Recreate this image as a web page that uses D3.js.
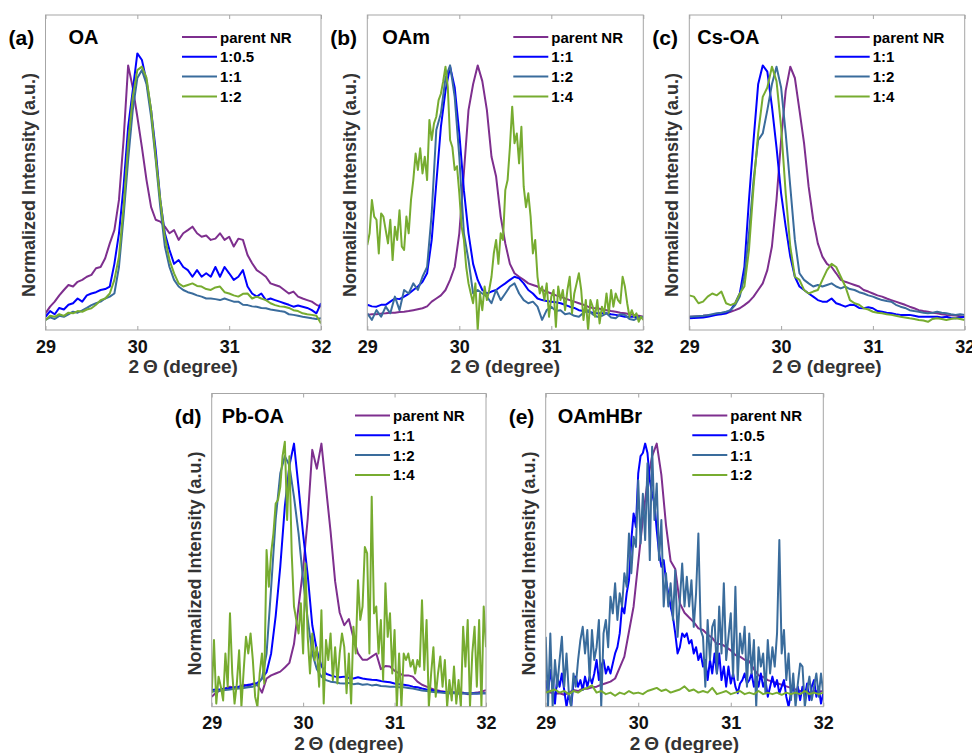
<!DOCTYPE html>
<html>
<head>
<meta charset="utf-8">
<script src="https://cdn.jsdelivr.net/npm/d3@7"></script>
<style>
  body { margin: 0; background: #fff; }
  svg { display: block; font-family: "Liberation Sans", Arial, sans-serif; }
</style>
</head>
<body>
<div id="chart"></div>
<script>
const width = 972;
const height = 753;

// 2-theta range and ticks shared by every panel
const xMin = 29;
const xMax = 32;
const xTicks = [29, 30, 31, 32];

const seriesColors = ["#7e2f8e", "#0000ff", "#3a6c9c", "#77ac30"];

// (a) OA  -- 0.05 deg grid
const oaLabels = ["parent NR", "1:0.5", "1:1", "1:2"];
const oaParent = [0.053,0.074,0.09,0.11,0.127,0.143,0.138,0.153,0.159,0.169,0.175,0.196,0.2,0.228,0.275,0.317,0.413,0.603,0.84,0.77,0.677,0.58,0.476,0.39,0.35,0.344,0.328,0.307,0.317,0.286,0.307,0.317,0.328,0.307,0.296,0.30,0.286,0.29,0.307,0.286,0.296,0.265,0.29,0.286,0.238,0.212,0.19,0.18,0.169,0.148,0.143,0.138,0.127,0.116,0.122,0.106,0.10,0.095,0.09,0.08,0.074];
const oa05 = [0.042,0.06,0.05,0.07,0.065,0.08,0.085,0.1,0.09,0.11,0.116,0.12,0.127,0.13,0.138,0.21,0.307,0.455,0.645,0.76,0.878,0.857,0.79,0.698,0.571,0.413,0.307,0.254,0.21,0.222,0.2,0.19,0.169,0.19,0.169,0.18,0.169,0.2,0.169,0.2,0.18,0.159,0.169,0.19,0.138,0.116,0.106,0.116,0.095,0.1,0.095,0.09,0.085,0.08,0.074,0.078,0.074,0.07,0.063,0.053,0.085];
const oa1 = [0.032,0.04,0.035,0.045,0.042,0.05,0.058,0.055,0.062,0.07,0.079,0.085,0.09,0.1,0.106,0.116,0.2,0.36,0.54,0.698,0.8,0.825,0.78,0.677,0.54,0.39,0.265,0.2,0.159,0.138,0.127,0.12,0.116,0.11,0.106,0.1,0.1,0.098,0.095,0.1,0.095,0.09,0.09,0.08,0.079,0.075,0.074,0.07,0.069,0.065,0.063,0.06,0.058,0.05,0.048,0.045,0.042,0.04,0.037,0.035,0.037];
const oa2 = [0.032,0.045,0.042,0.05,0.045,0.055,0.053,0.06,0.058,0.065,0.069,0.08,0.095,0.1,0.116,0.159,0.233,0.39,0.593,0.74,0.825,0.836,0.8,0.698,0.55,0.413,0.296,0.222,0.18,0.148,0.138,0.143,0.148,0.14,0.138,0.13,0.127,0.135,0.138,0.12,0.116,0.11,0.106,0.115,0.116,0.1,0.106,0.1,0.095,0.085,0.079,0.075,0.074,0.07,0.063,0.06,0.053,0.05,0.048,0.045,0.021];

// (b) OAm
const oamLabels = ["parent NR", "1:1", "1:2", "1:4"];
const oamParent = [0.048,0.05,0.05,0.052,0.053,0.055,0.055,0.057,0.058,0.06,0.063,0.066,0.069,0.075,0.09,0.1,0.11,0.127,0.159,0.2,0.307,0.5,0.698,0.78,0.84,0.79,0.698,0.55,0.487,0.36,0.275,0.21,0.18,0.169,0.159,0.148,0.143,0.138,0.127,0.122,0.116,0.11,0.106,0.1,0.095,0.09,0.085,0.08,0.074,0.07,0.069,0.066,0.063,0.06,0.058,0.055,0.053,0.05,0.048,0.045,0.042];
const oam1 = [0.08,0.075,0.074,0.08,0.08,0.09,0.1,0.098,0.106,0.115,0.127,0.138,0.153,0.18,0.286,0.466,0.645,0.76,0.836,0.77,0.624,0.444,0.307,0.21,0.159,0.127,0.116,0.122,0.127,0.138,0.148,0.159,0.169,0.164,0.148,0.127,0.116,0.1,0.095,0.092,0.09,0.088,0.085,0.08,0.074,0.07,0.063,0.06,0.058,0.055,0.053,0.053,0.053,0.05,0.048,0.045,0.042,0.042,0.042,0.04,0.037];
const oam2 = [0.053,0.032,0.063,0.042,0.074,0.053,0.106,0.063,0.127,0.116,0.148,0.127,0.169,0.2,0.37,0.635,0.688,0.8,0.84,0.74,0.55,0.307,0.222,0.116,0.127,0.116,0.106,0.085,0.127,0.095,0.116,0.138,0.148,0.116,0.095,0.085,0.09,0.074,0.032,0.063,0.074,0.06,0.063,0.05,0.053,0.045,0.042,0.055,0.063,0.05,0.042,0.045,0.053,0.04,0.037,0.05,0.048,0.035,0.032,0.04,0.042];
// 0.025 deg grid
const oam4 = [0.27,0.307,0.413,0.36,0.35,0.243,0.37,0.36,0.317,0.275,
  0.35,0.222,0.328,0.286,0.38,0.265,0.254,0.36,0.307,0.413,
  0.476,0.56,0.508,0.577,0.497,0.55,0.476,0.667,0.603,0.656,
  0.677,0.73,0.75,0.79,0.836,0.77,0.603,0.58,0.508,0.52,
  0.434,0.328,0.286,0.2,0.148,0.116,0.085,0.148,0.0,0.116,
  0.063,0.138,0.095,0.127,0.169,0.243,0.286,0.21,0.307,0.286,
  0.444,0.476,0.58,0.709,0.593,0.624,0.529,0.645,0.455,0.39,
  0.434,0.36,0.243,0.286,0.169,0.116,0.138,0.095,0.148,0.042,
  0.106,0.127,0.01,0.138,0.095,0.127,0.063,0.127,0.169,0.053,
  0.116,0.148,0.18,0.127,0.032,0.095,0.0,0.095,0.074,0.042,
  0.095,0.021,0.074,0.053,0.116,0.053,0.127,0.074,0.116,0.095,
  0.085,0.169,0.138,0.085,0.042,0.063,0.042,0.053,0.026,0.042,
  0.032];

// (c) Cs-OA
const csLabels = ["parent NR", "1:1", "1:2", "1:4"];
const csParent = [0.042,0.043,0.044,0.045,0.047,0.048,0.05,0.052,0.053,0.058,0.063,0.069,0.079,0.09,0.106,0.127,0.148,0.19,0.265,0.413,0.603,0.76,0.836,0.8,0.698,0.593,0.455,0.35,0.275,0.233,0.21,0.2,0.18,0.159,0.153,0.148,0.143,0.138,0.127,0.122,0.116,0.11,0.106,0.1,0.095,0.09,0.085,0.08,0.074,0.069,0.063,0.06,0.058,0.055,0.053,0.05,0.048,0.047,0.046,0.044,0.042];
const cs1 = [0.037,0.038,0.039,0.04,0.042,0.045,0.048,0.05,0.053,0.063,0.085,0.116,0.2,0.413,0.603,0.78,0.84,0.82,0.71,0.58,0.434,0.328,0.233,0.169,0.138,0.127,0.116,0.106,0.095,0.09,0.09,0.1,0.085,0.08,0.074,0.08,0.079,0.07,0.069,0.072,0.069,0.06,0.058,0.055,0.053,0.05,0.048,0.048,0.048,0.045,0.042,0.042,0.042,0.042,0.042,0.04,0.042,0.038,0.037,0.04,0.042];
const cs2 = [0.042,0.043,0.044,0.045,0.047,0.05,0.053,0.055,0.058,0.063,0.079,0.106,0.169,0.307,0.476,0.603,0.624,0.698,0.78,0.836,0.77,0.624,0.455,0.286,0.18,0.159,0.148,0.138,0.143,0.138,0.143,0.148,0.138,0.132,0.138,0.13,0.127,0.12,0.116,0.11,0.106,0.1,0.095,0.092,0.09,0.08,0.074,0.07,0.063,0.06,0.058,0.055,0.053,0.055,0.058,0.055,0.053,0.05,0.048,0.05,0.048];
const cs4 = [0.11,0.106,0.085,0.09,0.106,0.116,0.11,0.122,0.085,0.079,0.085,0.116,0.138,0.254,0.455,0.624,0.74,0.77,0.836,0.79,0.645,0.434,0.265,0.169,0.159,0.127,0.116,0.122,0.127,0.159,0.19,0.21,0.2,0.169,0.138,0.095,0.085,0.08,0.069,0.065,0.058,0.055,0.053,0.05,0.048,0.045,0.042,0.04,0.037,0.035,0.032,0.03,0.026,0.035,0.037,0.035,0.032,0.035,0.037,0.035,0.032];

// (d) Pb-OA
const pbLabels = ["parent NR", "1:1", "1:2", "1:4"];
const pbParent = [0.032,0.045,0.053,0.058,0.064,0.06,0.064,0.07,0.066,0.074,0.07,0.045,0.09,0.1,0.106,0.112,0.125,0.14,0.2,0.32,0.44,0.6,0.82,0.76,0.84,0.7,0.56,0.4,0.3,0.26,0.28,0.22,0.17,0.15,0.15,0.16,0.17,0.12,0.13,0.128,0.115,0.106,0.1,0.1,0.096,0.08,0.07,0.064,0.058,0.053,0.05,0.048,0.043,0.045,0.043,0.045,0.04,0.043,0.045,0.048,0.053];
const pb1 = [0.053,0.055,0.056,0.058,0.06,0.062,0.064,0.066,0.07,0.072,0.076,0.09,0.11,0.17,0.29,0.447,0.64,0.77,0.84,0.7,0.55,0.42,0.26,0.18,0.13,0.105,0.1,0.096,0.094,0.096,0.092,0.09,0.094,0.09,0.088,0.086,0.085,0.082,0.08,0.078,0.074,0.072,0.07,0.068,0.064,0.062,0.058,0.055,0.053,0.05,0.048,0.047,0.046,0.045,0.043,0.043,0.042,0.043,0.042,0.043,0.043];
const pb2 = [0.048,0.05,0.052,0.053,0.055,0.057,0.058,0.06,0.062,0.064,0.07,0.09,0.17,0.38,0.6,0.745,0.8,0.77,0.67,0.553,0.404,0.28,0.17,0.12,0.096,0.085,0.08,0.078,0.075,0.074,0.076,0.072,0.074,0.07,0.072,0.068,0.07,0.066,0.065,0.064,0.064,0.062,0.062,0.06,0.058,0.055,0.052,0.05,0.048,0.046,0.045,0.044,0.043,0.043,0.042,0.042,0.043,0.042,0.042,0.043,0.043];
// 0.025 deg grid
const pb4 = [0.043,0.213,0.01,0.096,0.064,0.02,0.17,0.064,0.298,0.106,
  0.01,0.074,0.18,0,0.117,0.223,0.17,0.234,0.149,0.032,
  0,0.106,0.17,0.074,0.5,0.383,0.49,0.553,0.649,0.66,
  0.702,0.8,0.846,0.596,0.8,0.49,0.32,0.277,0.234,0.33,
  0.17,0.457,0.223,0.106,0.234,0.149,0.19,0.064,0.308,0.01,
  0.213,0.149,0.234,0.085,0.19,0.074,0.17,0.234,0.19,0.043,
  0.17,0.01,0.255,0.17,0.404,0.277,0.32,0.51,0.49,0.17,
  0.67,0.298,0.32,0.17,0.277,0.085,0.394,0.223,0.298,0.106,
  0.245,0,0.17,0,0.17,0.149,0.17,0.128,0.149,0.106,
  0.149,0.128,0.34,0.117,0.277,0,0.106,0.19,0.032,0.106,
  0.16,0.064,0.149,0,0.085,0.02,0.128,0.01,0.085,0,
  0.255,0.128,0.277,0,0.17,0.255,0.064,0.277,0,0.32,
  0.19];

// (e) OAmHBr
const hbrLabels = ["parent NR", "1:0.5", "1:1", "1:2"];
const hbrParent = [0.048,0.045,0.042,0.043,0.038,0.045,0.053,0.05,0.058,0.057,0.062,0.064,0.07,0.075,0.08,0.09,0.125,0.16,0.24,0.32,0.46,0.6,0.72,0.8,0.84,0.74,0.58,0.465,0.44,0.33,0.3,0.285,0.27,0.25,0.245,0.23,0.22,0.2,0.2,0.19,0.18,0.165,0.16,0.15,0.145,0.12,0.1,0.095,0.085,0.08,0.075,0.07,0.065,0.06,0.055,0.05,0.05,0.045,0.05,0.048,0.05];
// 0.025 deg grid
const hbr05 = [0.085,0.043,0.117,0.064,0.01,0.096,0.064,0.106,0.053,0,
  0.043,0,0.074,0.096,0.064,0.085,0.053,0.096,0.064,0.096,
  0.074,0.106,0.149,0.085,0.128,0.149,0.106,0.128,0.106,0.138,
  0.17,0.19,0.234,0.32,0.298,0.362,0.404,0.532,0.617,0.574,
  0.745,0.8,0.81,0.84,0.81,0.723,0.68,0.649,0.564,0.49,
  0.447,0.468,0.404,0.362,0.32,0.287,0.234,0.17,0.19,0.234,
  0.223,0.234,0.202,0.213,0.17,0.19,0.149,0.17,0.128,0.149,
  0.085,0.149,0.106,0.17,0.106,0.17,0.085,0.128,0.064,0.128,
  0.074,0.106,0.064,0.043,0.074,0.085,0.106,0.074,0.085,0.106,
  0.064,0.096,0.064,0.106,0.064,0.085,0.032,0.064,0.096,0.064,
  0.085,0.043,0.064,0.085,0.032,0,0.043,0.064,0.032,0.064,
  0.021,0.064,0.032,0.074,0.021,0.064,0.085,0.032,0.064,0.01,
  0.043];
const hbr1 = [0.223,0,0.234,0,0.149,0.064,0.149,0.223,0.064,0.17,
  0.043,0,0.106,0.064,0.149,0.213,0.255,0.17,0.245,0.085,
  0.245,0.149,0.19,0.277,0,0.234,0.277,0.19,0.351,0.298,
  0.394,0.277,0.362,0.32,0.426,0.383,0.553,0.426,0.543,0.51,
  0.723,0.521,0.68,0.532,0.777,0.468,0.83,0.596,0.713,0.468,
  0.596,0.32,0.426,0.32,0.394,0.277,0.436,0.223,0.34,0.457,
  0.32,0.415,0.32,0.404,0.255,0.362,0.553,0.245,0.223,0.064,
  0.277,0.149,0.255,0.277,0.106,0.32,0.17,0.394,0.149,0.223,
  0.298,0.096,0.383,0.085,0.234,0.17,0.255,0.064,0.234,0.106,
  0.213,0,0.19,0.128,0.17,0.043,0.213,0.106,0.19,0.128,
  0.234,0.532,0.17,0.245,0.085,0.17,0.021,0.106,0,0.074,
  0.138,0.128,0,0.053,0.096,0.021,0.064,0.106,0.032,0.106,
  0.043];
const hbr2 = [0.045,0.05,0.055,0.045,0.05,0.04,0.05,0.045,0.055,0.06,0.068,0.045,0.05,0.04,0.045,0.035,0.045,0.04,0.05,0.042,0.045,0.04,0.05,0.055,0.06,0.05,0.055,0.045,0.05,0.055,0.065,0.05,0.055,0.045,0.05,0.045,0.06,0.04,0.045,0.05,0.04,0.045,0.05,0.04,0.045,0.04,0.05,0.04,0.045,0.04,0.045,0.038,0.045,0.04,0.045,0.04,0.05,0.04,0.045,0.04,0.045];

// panel frames in page pixels: [left, top, right, bottom]
const panels = [
  { tag: "(a)", title: "OA", box: [45.5, 15, 321, 330], titleDx: 23, legendDx: 139,
    labels: oaLabels, series: [oaParent, oa05, oa1, oa2] },
  { tag: "(b)", title: "OAm", box: [367.3, 15, 643.3, 330], titleDx: 15, legendDx: 130,
    labels: oamLabels, series: [oamParent, oam1, oam2, oam4] },
  { tag: "(c)", title: "Cs-OA", box: [689.3, 15, 964.7, 330], titleDx: 8, legendDx: 130,
    labels: csLabels, series: [csParent, cs1, cs2, cs4] },
  { tag: "(d)", title: "Pb-OA", box: [211.7, 393.5, 486, 706.7], titleDx: 10, legendDx: 131,
    labels: pbLabels, series: [pbParent, pb1, pb2, pb4] },
  { tag: "(e)", title: "OAmHBr", box: [545.7, 393.5, 823.3, 706.7], titleDx: 12, legendDx: 131,
    labels: hbrLabels, series: [hbrParent, hbr05, hbr1, hbr2] },
];

const svg = d3
  .select("#chart")
  .append("svg")
  .attr("width", width)
  .attr("height", height);

panels.forEach((p, pi) => {
  const [x0, y0, x1, y1] = p.box;
  const g = svg.append("g");

  const xScale = d3.scaleLinear().domain([xMin, xMax]).range([x0, x1]);
  const yScale = d3.scaleLinear().domain([0, 1]).range([y1, y0]);

  // clip the traces to the frame
  const clipId = `clip-${pi}`;
  svg.append("clipPath").attr("id", clipId)
    .append("rect")
    .attr("x", x0).attr("y", y0)
    .attr("width", x1 - x0).attr("height", y1 - y0);

  const line = (arr) => {
    const step = (xMax - xMin) / (arr.length - 1);
    return d3.line()
      .x((d, i) => xScale(xMin + i * step))
      .y((d) => yScale(d))(arr);
  };

  g.append("g")
    .attr("clip-path", `url(#${clipId})`)
    .selectAll("path")
    .data(p.series)
    .enter()
    .append("path")
    .attr("d", (d) => line(d))
    .attr("fill", "none")
    .attr("stroke", (d, i) => seriesColors[i])
    .attr("stroke-width", 2)
    .attr("stroke-linejoin", "round");

  // frame
  g.append("rect")
    .attr("x", x0).attr("y", y0)
    .attr("width", x1 - x0).attr("height", y1 - y0)
    .attr("fill", "none")
    .attr("stroke", "#a6a6a6")
    .attr("stroke-width", 1);

  // bottom axis: inward ticks, bold labels
  const xAxis = d3.axisBottom(xScale)
    .tickValues(xTicks)
    .tickSizeInner(-4)
    .tickSizeOuter(0)
    .tickPadding(10)
    .tickFormat(d3.format("d"));
  const ax = g.append("g")
    .attr("transform", `translate(0, ${y1})`)
    .call(xAxis);
  ax.select(".domain").remove();
  ax.selectAll(".tick line").attr("stroke", "#a6a6a6");
  ax.selectAll(".tick text")
    .attr("fill", "#111")
    .style("font-size", "18px")
    .style("font-weight", "bold")
    .style("font-family", "'Liberation Sans', Arial, sans-serif");

  // top ticks
  const axTop = g.append("g")
    .attr("transform", `translate(0, ${y0})`)
    .call(d3.axisTop(xScale).tickValues(xTicks).tickSizeInner(-4).tickSizeOuter(0).tickFormat(""));
  axTop.select(".domain").remove();
  axTop.selectAll(".tick line").attr("stroke", "#a6a6a6");

  // axis titles
  g.append("text")
    .attr("x", (x0 + x1) / 2)
    .attr("y", y1 + 43)
    .attr("text-anchor", "middle")
    .attr("fill", "#333")
    .style("font-size", "19px")
    .style("font-weight", "bold")
    .text("2\u2009\u0398 (degree)");

  g.append("text")
    .attr("transform", `translate(${x0 - 11}, ${y0 + 170}) rotate(-90)`)
    .attr("text-anchor", "middle")
    .attr("fill", "#333")
    .style("font-size", "18px")
    .style("font-weight", "bold")
    .text("Normalized Intensity (a.u.)");

  // panel tag and title
  g.append("text")
    .attr("x", x0 - 37)
    .attr("y", y0 + 30)
    .attr("fill", "#000")
    .style("font-size", "21px")
    .style("font-weight", "bold")
    .text(p.tag);

  g.append("text")
    .attr("x", x0 + p.titleDx)
    .attr("y", y0 + 29)
    .attr("fill", "#000")
    .style("font-size", "20px")
    .style("font-weight", "bold")
    .text(p.title);

  // legend
  const legend = g.append("g")
    .attr("transform", `translate(${x1 - p.legendDx}, ${y0 + 22})`);
  const rows = legend.selectAll("g")
    .data(p.labels)
    .enter()
    .append("g")
    .attr("transform", (d, i) => `translate(0, ${i * 19.8})`);
  rows.append("line")
    .attr("x1", 0).attr("x2", 35)
    .attr("y1", 0).attr("y2", 0)
    .attr("stroke", (d, i) => seriesColors[i])
    .attr("stroke-width", 2);
  rows.append("text")
    .attr("x", 38)
    .attr("y", 5.5)
    .attr("fill", "#000")
    .style("font-size", "15px")
    .style("font-weight", "bold")
    .text((d) => d);
});
</script>
</body>
</html>
